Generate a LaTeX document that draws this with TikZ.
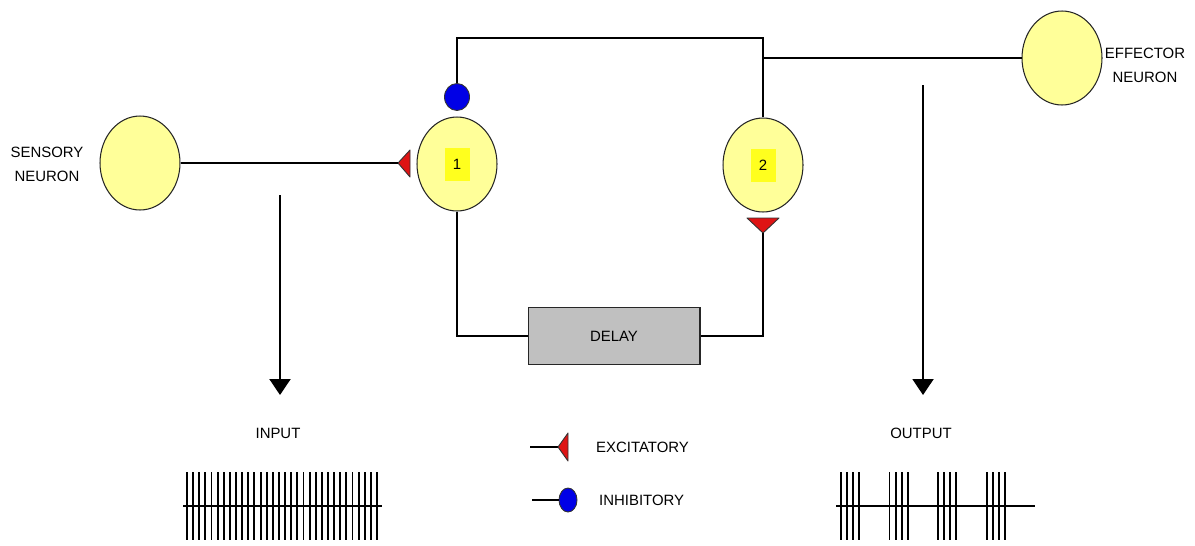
\documentclass[tikz,border=0pt]{standalone}
\usepackage{fontspec}
\setmainfont{Liberation Sans}
\usetikzlibrary{arrows.meta,positioning,shapes.geometric}
\definecolor{cellyellow}{RGB}{255,255,153}
\definecolor{tagyellow}{RGB}{255,255,30}
\definecolor{delaygray}{RGB}{192,192,192}
\definecolor{synred}{RGB}{222,20,20}
\definecolor{synblue}{RGB}{0,0,230}

\begin{document}
\begin{tikzpicture}[x=0.02cm,y=-0.02cm,font=\fontsize{8.5}{13.6}\selectfont,
neuron/.style={ellipse,draw=black!85,fill=cellyellow,line width=.6pt,minimum width=1.6cm,minimum height=1.88cm,inner sep=0pt},
tag/.style={fill=tagyellow,minimum width=.5cm,minimum height=.66cm,inner sep=0pt},
box/.style={draw=black!85,fill=delaygray,line width=.6pt,minimum width=3.44cm,minimum height=1.14cm},
wire/.style={line width=1.2pt},
exc/.style={draw=black!80,fill=synred,line width=.5pt,line join=round},
inh/.style={ellipse,draw=black!80,fill=synblue,line width=.5pt,inner sep=0pt,minimum width=.5cm,minimum height=.54cm},
spike/.style={line width=1.1pt},
down/.style={wire,-{Triangle[width=.42cm,length=.32cm]}}]
\useasboundingbox (0,0) rectangle (1195,545);
% cells
\node[neuron] (sens) at (140,163) {};
\node[neuron] (n1) at (457,164) {};
\node[neuron] (n2) at (763,165) {};
\node[neuron] (eff) at (1062,58) {};
\node[tag] (t1) at (n1) {1};
\node[tag] (t2) at (n2) {2};
\node[box] (delay) at (614,336) {DELAY};
\node[align=center] (senslab) at (47,164) {SENSORY\\NEURON};
\node[align=center] (efflab) at (1145,65) {EFFECTOR\\NEURON};
% synapses
\node[inh] (inh1) at (457,97) {};
\coordinate (x1) at (398,163);
\filldraw[exc] (x1) -- ++(12,-13) -- ++(0,27) -- cycle;
\coordinate (x2) at (763,233);
\filldraw[exc] (x2) -- ++(-16,-15) -- ++(32,0) -- cycle;
% wiring
\coordinate (tr) at (763,38);\coordinate (br) at (763,58);
\draw[wire] (sens.east) -- (x1);
\draw[wire] (inh1.north) |- (tr) -- (n2.north);
\draw[wire] (br) -- (eff.west);
\draw[wire] (n1.south) |- (delay.west);
\draw[wire] (x2) |- (delay.east);
% input / output
\coordinate (in0) at (280,195);\coordinate (in1) at (280,395);
\coordinate (out0) at (923,85);\coordinate (out1) at (923,395);
\draw[down] (in0) -- (in1);
\draw[down] (out0) -- (out1);
\node (inlab) at (278,433) {INPUT};
\node (outlab) at (921,433) {OUTPUT};
\draw[spike] (183,506) -- (382,506);
\foreach \i in {0,...,31}{\draw[spike] (187+6.13*\i,472) -- ++(0,68);}
\draw[spike] (836,506) -- (1035,506);
\foreach \g in {841,889.5,938,987}{\foreach \i in {0,...,3}{\draw[spike] (\g+6.1*\i,472) -- ++(0,68);}}
% legend
\coordinate (lx0) at (530,447);\coordinate (lx) at (558,447);
\draw[wire] (lx0) -- (lx);
\filldraw[exc] (lx) -- ++(10,-14) -- ++(0,28) -- cycle;
\node[anchor=west] (exclab) at (590,447) {EXCITATORY};
\coordinate (li0) at (532,500);
\node[inh,minimum width=.36cm,minimum height=.48cm] (linh) at (568,500) {};
\draw[wire] (li0) -- (linh.west);
\node[anchor=west] (inhlab) at (593,500) {INHIBITORY};
\end{tikzpicture}
\end{document}
